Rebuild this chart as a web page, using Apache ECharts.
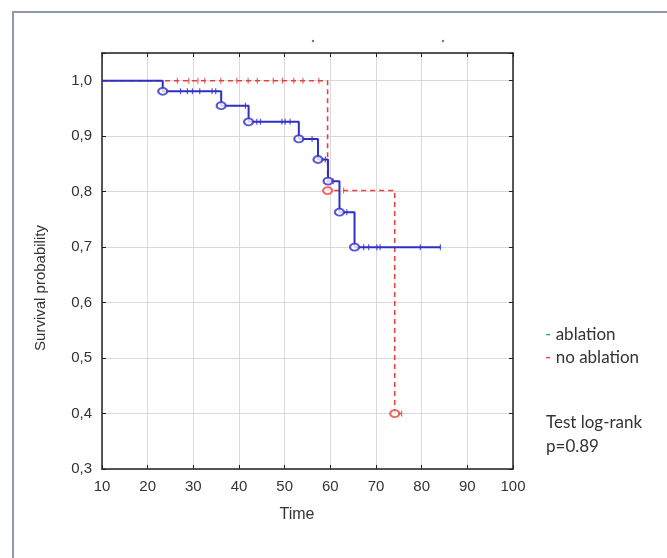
<!DOCTYPE html>
<html>
<head>
<meta charset="utf-8">
<script src="https://cdn.jsdelivr.net/npm/echarts@6/dist/echarts.min.js"></script>
<style>html,body{margin:0;padding:0;background:#fff}#c{width:667px;height:558px}</style>
</head>
<body>
<div id="c"></div>
<script>
// Kaplan-Meier steps: [time, survival after time]
const ablationSteps = [[10,1.0],[23.3,0.981],[36.1,0.955],[42.1,0.926],[53.1,0.895],[57.3,0.858],[59.5,0.819],[62.0,0.763],[65.3,0.700],[84.1,0.700]];
const ablationEvents = [[23.3,0.981],[36.1,0.955],[42.1,0.926],[53.1,0.895],[57.3,0.858],[59.5,0.819],[62.0,0.763],[65.3,0.700]];
const ablationCensored = [27.2,28.7,29.8,31.4,34.1,34.9,41.4,43.9,44.7,49.4,50.1,51.2,56.0,58.9,60.6,63.6,67.3,68.4,70.2,70.9,79.7,84.1];

const noAblationSteps = [[10,1.0],[59.4,0.802],[74.1,0.400],[75.6,0.400]];
const noAblationEvents = [[59.4,0.802],[74.1,0.400]];
const noAblationCensored = [26.5,29.0,31.0,32.5,36.0,39.5,42.0,44.0,47.5,49.5,52.0,54.0,57.5,62.9,75.6];

const xTicks = {min:10, max:100, interval:10};
const yTicks = {min:0.3, max:1.05, interval:0.1};

function survAt(steps, t){
  let s = steps[0][1];
  for (const p of steps){ if (p[0] <= t) s = p[1]; }
  return s;
}
const blue = '#2f2fc4', red = '#e6423c';
const chart = echarts.init(document.getElementById('c'));
const labelFont = {color:'#333', fontSize:15, fontFamily:'Liberation Sans, Arial, sans-serif'};
const yFmt = v => (Math.abs(v*10 - Math.round(v*10)) > 1e-6) ? '' : v.toFixed(1).replace('.', ',');
const grid = {left:102, top:53, right:154, bottom:89};
const axisLine = {show:true, lineStyle:{color:'#222', width:1.5}};
const ticks = {show:true, inside:true, length:4, lineStyle:{color:'#222', width:1}};
chart.setOption({
  animation:false,
  backgroundColor:'#fff',
  grid: grid,
  xAxis:[
    {type:'value', min:xTicks.min, max:xTicks.max, interval:xTicks.interval, position:'bottom',
     axisLine:axisLine, axisTick:ticks, axisLabel:Object.assign({margin:10}, labelFont),
     splitLine:{show:true, lineStyle:{color:'#d9d9d9', width:1}}},
    {type:'value', min:xTicks.min, max:xTicks.max, interval:xTicks.interval, position:'top',
     axisLine:axisLine, axisTick:ticks, axisLabel:{show:false}, splitLine:{show:false}}
  ],
  yAxis:[
    {type:'value', min:yTicks.min, max:yTicks.max, interval:yTicks.interval, position:'left',
     axisLine:axisLine, axisTick:ticks, axisLabel:Object.assign({margin:10, formatter:yFmt}, labelFont),
     splitLine:{show:true, lineStyle:{color:'#d9d9d9', width:1}}},
    {type:'value', min:yTicks.min, max:yTicks.max, interval:yTicks.interval, position:'right',
     axisLine:axisLine, axisTick:ticks, axisLabel:{show:false}, splitLine:{show:false}}
  ],
  series:[
    {type:'line', step:'end', data:noAblationSteps, showSymbol:false, symbol:'none',
     lineStyle:{color:red, width:1.6, type:[5,4]}, z:2},
    {type:'line', step:'end', data:ablationSteps, showSymbol:false, symbol:'none',
     lineStyle:{color:blue, width:2}, z:3},
    {type:'scatter', data:noAblationCensored.map(t=>[t, survAt(noAblationSteps,t)]),
     symbol:'rect', symbolSize:[1.2,6], itemStyle:{color:red}, z:4},
    {type:'scatter', data:ablationCensored.map(t=>[t, survAt(ablationSteps,t)]),
     symbol:'rect', symbolSize:[1.2,6], itemStyle:{color:blue}, z:5},
    {type:'scatter', data:noAblationEvents, symbol:'emptyCircle', symbolSize:[9,7],
     itemStyle:{color:red, borderColor:red, borderWidth:1.8}, z:6},
    {type:'scatter', data:ablationEvents, symbol:'emptyCircle', symbolSize:[9,7],
     itemStyle:{color:blue, borderColor:blue, borderWidth:1.8}, z:7}
  ],
  graphic:[
    {type:'rect', shape:{x:13, y:12, width:720, height:620}, style:{fill:'none', stroke:'#8d98aa', lineWidth:2}, silent:true},
    {type:'circle', shape:{cx:313, cy:41, r:1.2}, style:{fill:'#777'}},
    {type:'circle', shape:{cx:443, cy:41, r:1.2}, style:{fill:'#777'}},
    {type:'text', x:297, y:515, style:{text:'Time', fill:'#333', fontSize:16, fontFamily:'Liberation Sans, Arial, sans-serif', align:'center', verticalAlign:'middle'}},
    {type:'text', x:41, y:288, rotation:Math.PI/2, style:{text:'Survival probability', fill:'#333', fontSize:15, fontFamily:'Liberation Sans, Arial, sans-serif', align:'center', verticalAlign:'middle'}},
    {type:'text', x:545, y:335, style:{text:'{d|-} ablation', rich:{d:{fill:'#2f9aa8', fontSize:17, fontFamily:'Lato, sans-serif'}}, fill:'#333', fontSize:17, fontFamily:'Lato, sans-serif', verticalAlign:'middle'}},
    {type:'text', x:545, y:358, style:{text:'{d|-} no ablation', rich:{d:{fill:'#e04060', fontSize:17, fontFamily:'Lato, sans-serif'}}, fill:'#333', fontSize:17, fontFamily:'Lato, sans-serif', verticalAlign:'middle'}},
    {type:'text', x:546, y:423, style:{text:'Test log-rank', fill:'#333', fontSize:17, fontFamily:'Lato, sans-serif', verticalAlign:'middle'}},
    {type:'text', x:546, y:447, style:{text:'p=0.89', fill:'#333', fontSize:17, fontFamily:'Lato, sans-serif', verticalAlign:'middle'}}
  ]
});
</script>
</body>
</html>
